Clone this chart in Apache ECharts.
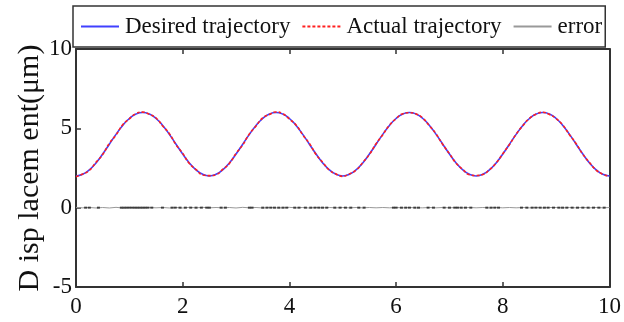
<!DOCTYPE html>
<html>
<head>
<meta charset="utf-8">
<script src="https://cdn.jsdelivr.net/npm/echarts@6/dist/echarts.min.js"></script>
<style>html,body{margin:0;padding:0;background:#fff}#c{width:624px;height:322px}</style>
</head>
<body>
<div id="c"></div>
<script>
var xs = [0,0.125,0.25,0.375,0.5,0.625,0.75,0.875,1,1.125,1.25,1.375,1.5,1.625,1.75,1.875,2,2.125,2.25,2.375,
2.5,2.625,2.75,2.875,3,3.125,3.25,3.375,3.5,3.625,3.75,3.875,4,4.125,4.25,4.375,4.5,4.625,4.75,4.875,
5,5.125,5.25,5.375,5.5,5.625,5.75,5.875,6,6.125,6.25,6.375,6.5,6.625,6.75,6.875,7,7.125,7.25,7.375,
7.5,7.625,7.75,7.875,8,8.125,8.25,8.375,8.5,8.625,8.75,8.875,9,9.125,9.25,9.375,9.5,9.625,9.75,9.875,10];

var desired = [2.00,2.10,2.38,2.82,3.38,4.00,4.62,5.18,5.62,5.90,6.00,5.90,5.62,5.18,4.62,4.00,3.38,2.82,2.38,2.10,
2.00,2.10,2.38,2.82,3.38,4.00,4.62,5.18,5.62,5.90,6.00,5.90,5.62,5.18,4.62,4.00,3.38,2.82,2.38,2.10,
2.00,2.10,2.38,2.82,3.38,4.00,4.62,5.18,5.62,5.90,6.00,5.90,5.62,5.18,4.62,4.00,3.38,2.82,2.38,2.10,
2.00,2.10,2.38,2.82,3.38,4.00,4.62,5.18,5.62,5.90,6.00,5.90,5.62,5.18,4.62,4.00,3.38,2.82,2.38,2.10,
2.00];

var actual = [1.95,2.12,2.35,2.86,3.35,4.05,4.58,5.22,5.60,5.93,6.02,5.88,5.65,5.15,4.66,3.97,3.42,2.78,2.40,2.06,
2.02,2.08,2.41,2.79,3.42,3.96,4.65,5.15,5.66,5.87,6.03,5.92,5.58,5.21,4.59,4.04,3.35,2.85,2.36,2.12,
1.97,2.13,2.36,2.84,3.36,4.03,4.60,5.20,5.61,5.92,5.98,5.91,5.64,5.16,4.64,3.98,3.40,2.80,2.41,2.07,
2.03,2.09,2.39,2.81,3.40,3.98,4.63,5.17,5.63,5.89,6.01,5.87,5.61,5.20,4.60,4.03,3.37,2.84,2.37,2.11,
1.98];

var errorVals = [0.02,-0.01,0.01,-0.02,0.01,-0.02,0.02,-0.02,0.01,-0.01,-0.01,0.01,-0.01,0.01,-0.02,0.01,-0.02,0.02,-0.01,0.02,
-0.01,0.01,-0.01,0.01,-0.02,0.02,-0.01,0.01,-0.02,0.01,-0.01,-0.01,0.02,-0.01,0.01,-0.02,0.01,-0.01,0.01,-0.01,
0.01,-0.01,0.01,-0.01,0.01,-0.01,0.01,-0.01,0.01,-0.01,0.01,-0.01,-0.01,0.01,-0.01,0.01,-0.01,0.01,-0.01,0.01,
-0.01,0.01,-0.01,0.01,-0.01,0.01,-0.01,0.01,-0.01,0.01,-0.01,0.01,0.01,-0.01,0.01,-0.01,0.01,-0.01,0.01,-0.01,
0.01];

var errorMarkX = [0.18,0.25,0.42,0.85,0.9,0.95,1.0,1.05,1.1,1.15,1.2,1.25,1.3,1.35,1.42,1.62,1.8,1.86,1.95,2.05,
2.15,2.25,2.35,2.45,2.5,2.72,2.8,3.25,3.3,3.5,3.58,3.65,3.72,3.8,3.88,3.95,4.1,4.18,4.3,4.4,4.48,4.55,4.62,4.7,
4.85,4.95,5.05,5.15,5.3,5.4,5.95,6.0,6.1,6.18,6.25,6.35,6.42,6.6,6.7,6.9,7.0,7.1,7.15,7.22,7.3,7.4,7.7,7.78,
7.85,7.92,8.35,8.45,8.55,8.62,8.7,8.78,8.85,8.95,9.05,9.12,9.2,9.3,9.4,9.5,9.6,9.7,9.8,9.9];

var xTicks = [0,2,4,6,8,10];
var yTicks = [-5,0,5,10];
var seriesNames = ['Desired trajectory','Actual trajectory','error'];
var yTitle = 'D isp lacem ent(μm)';

function pairs(arr){ return xs.map(function(x,i){ return [x, arr[i]]; }); }

var serif = '"Liberation Serif","DejaVu Serif",serif';
var axisCol = '#333';

var chart = echarts.init(document.getElementById('c'), null, {renderer:'canvas'});
chart.setOption({
  animation: false,
  backgroundColor: '#fff',
  grid: {left: 76, right: 14, top: 49, bottom: 35, containLabel: false},
  legend: {
    data: seriesNames,
    left: 73, top: 6,
    padding: [9, 3, 9, 7],
    itemGap: 11,
    itemWidth: 38,
    itemHeight: 14,
    borderColor: '#333',
    borderWidth: 1.5,
    backgroundColor: '#fff',
    itemStyle: {opacity: 0},
    textStyle: {fontFamily: serif, fontSize: 23, color: '#111', padding: [0,0,0,1]}
  },
  xAxis: [{
    type: 'value', min: xTicks[0], max: xTicks[xTicks.length-1], interval: 2, position: 'bottom',
    axisLine: {onZero: false, lineStyle: {color: axisCol, width: 2}},
    axisTick: {inside: true, length: 5, lineStyle: {color: axisCol, width: 1.5}},
    axisLabel: {fontFamily: serif, fontSize: 23, color: '#111', margin: 8},
    splitLine: {show: false}
  }, {
    type: 'value', min: xTicks[0], max: xTicks[xTicks.length-1], interval: 2, position: 'top',
    axisLine: {onZero: false, lineStyle: {color: axisCol, width: 2}},
    axisTick: {inside: true, length: 5, lineStyle: {color: axisCol, width: 1.5}},
    axisLabel: {show: false},
    splitLine: {show: false}
  }],
  yAxis: [{
    type: 'value', min: yTicks[0], max: yTicks[yTicks.length-1], interval: 5, position: 'left',
    axisLine: {show: true, onZero: false, lineStyle: {color: axisCol, width: 2}},
    axisTick: {show: true, inside: true, length: 5, lineStyle: {color: axisCol, width: 1.5}},
    axisLabel: {fontFamily: serif, fontSize: 23, color: '#111', margin: 4},
    splitLine: {show: false},
    name: yTitle, nameLocation: 'middle', nameGap: 31, nameMoveOverlap: false,
    nameTextStyle: {fontFamily: serif, fontSize: 30, color: '#111'}
  }, {
    type: 'value', min: yTicks[0], max: yTicks[yTicks.length-1], interval: 5, position: 'right',
    axisLine: {show: true, onZero: false, lineStyle: {color: axisCol, width: 2}},
    axisTick: {show: false},
    axisLabel: {show: false},
    splitLine: {show: false}
  }],
  series: [{
    name: seriesNames[0], type: 'line', data: pairs(desired), smooth: true,
    symbol: 'none', lineStyle: {color: '#4040ff', width: 1.6}, itemStyle: {color: '#4040ff'}, z: 3
  }, {
    name: seriesNames[1], type: 'line', data: pairs(actual), smooth: true,
    symbol: 'none', lineStyle: {color: '#ff2020', width: 1.6, type: [3, 2]}, itemStyle: {color: '#ff2020'}, z: 4
  }, {
    name: seriesNames[2], type: 'line', data: pairs(errorVals),
    symbol: 'none', lineStyle: {color: '#999', width: 1}, itemStyle: {color: '#999'}, z: 2
  }, {
    name: 'error marks', type: 'scatter', data: errorMarkX.map(function(x){ return [x, 0]; }),
    symbol: 'rect', symbolSize: [3, 2], itemStyle: {color: '#222'}, z: 2, silent: true
  }]
});
</script>
</body>
</html>
